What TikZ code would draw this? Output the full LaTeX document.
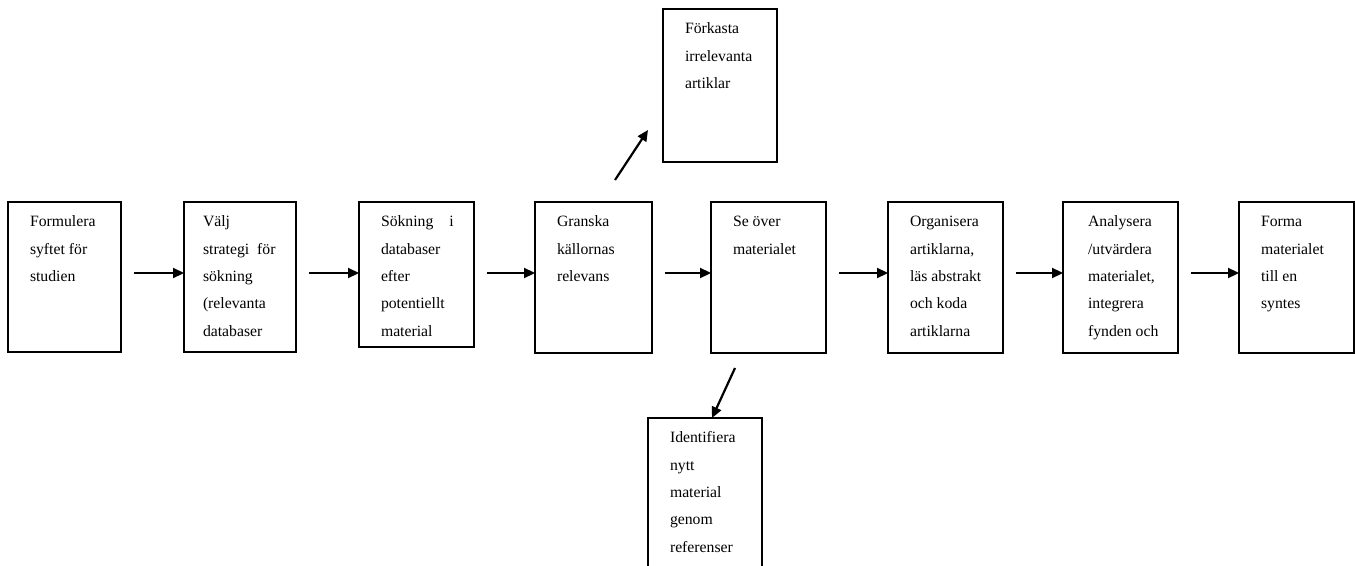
\documentclass[tikz,border=0pt]{standalone}
\usepackage{fontspec}
\setmainfont{Liberation Serif}
\usetikzlibrary{arrows.meta,positioning,calc}
\tikzset{
  stepbox/.style={draw=black, line width=1.5bp, anchor=north west,
    inner sep=0pt, outer sep=0pt,
    font=\fontsize{15.8}{27.5}\selectfont},
  flow/.style={-{Triangle[length=11bp, width=10bp]}, line width=2.2bp}
}
% box text: height, width, text (top aligned, left inset)
\newcommand{\steptext}[3]{\parbox[t][#1][t]{#2}{\raggedright\leftskip=22bp
  \vspace*{5.5bp}\strut#3}}

\begin{document}
\begin{tikzpicture}[x=1bp, y=-1bp]
  \useasboundingbox (0,0) rectangle (1355,566);
  \coordinate (mid) at (0,273);
  % main chain
  \node[stepbox] (b1) at (8,202)
    {\steptext{150bp}{113bp}{Formulera\\syftet för\\studien}};
  \node[stepbox] (b2) at (184,202)
    {\steptext{150bp}{112bp}{\hspace*{-3bp}Välj\\\hspace*{-3bp}strategi~~för\\\hspace*{-3bp}sökning\\\hspace*{-3bp}(relevanta\\\hspace*{-3bp}databaser}};
  \node[stepbox] (b3) at (359,202)
    {\steptext{145bp}{115bp}{Sökning\hspace{16bp}i\\databaser\\efter\\potentiellt\\material}};
  \node[stepbox] (b4) at (535,202)
    {\steptext{151bp}{117bp}{Granska\\källornas\\relevans}};
  \node[stepbox] (b5) at (711,202)
    {\steptext{151bp}{115bp}{Se över\\materialet}};
  \node[stepbox] (b6) at (888,202)
    {\steptext{151bp}{115bp}{Organisera\\artiklarna,\\läs abstrakt\\och koda\\artiklarna}};
  \node[stepbox] (b7) at (1063,202)
    {\steptext{151bp}{115bp}{\hspace*{3bp}Analysera\\\hspace*{3bp}/utvärdera\\\hspace*{3bp}materialet,\\\hspace*{3bp}integrera\\\hspace*{3bp}fynden och}};
  \node[stepbox] (b8) at (1239,202)
    {\steptext{151bp}{115bp}{Forma\\materialet\\till en\\syntes}};
  % side boxes
  \node[stepbox] (fk) at (663,9)
    {\steptext{153bp}{114bp}{Förkasta\\irrelevanta\\artiklar}};
  \node[stepbox] (id) at (648,418)
    {\steptext{160bp}{114bp}{Identifiera\\nytt\\material\\genom\\referenser}};
  % arrows
  \foreach \a/\b in {b1/b2,b2/b3,b3/b4,b4/b5,b5/b6,b6/b7,b7/b8}
    \draw[flow] ([xshift=12.5bp]\a.east |- mid) -- (\b.west |- mid);
  \draw[flow] ([shift={(80,-22)}]b4.north west) -- ([shift={(-15,-32)}]fk.south west);
  \draw[flow] ([shift={(24,15)}]b5.south west) -- ([xshift=64bp]id.north west);
\end{tikzpicture}
\end{document}
